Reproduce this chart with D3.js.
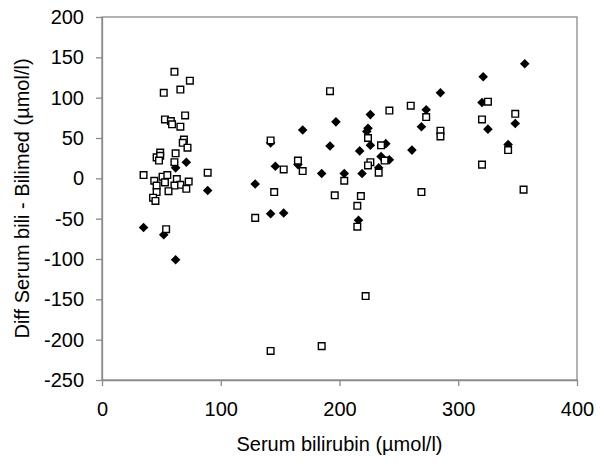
<html>
<head>
<script src="https://d3js.org/d3.v7.min.js"></script>
<style>
  body { margin: 0; background: #fff; }
  svg { display: block; font-family: Arial, 'Liberation Sans', sans-serif; }
</style>
</head>
<body>
<svg width="600" height="463"></svg>
<script>
// series 1: filled diamonds  [bilirubin, diff]
var diamondX = [35, 52, 62, 62, 71, 89, 129, 142, 142, 146, 153, 165, 169, 185, 192, 197, 204, 217, 216, 219,
                224, 223, 226, 226, 233, 235, 239, 242, 261, 269, 273, 285, 320, 321, 325, 342, 348, 356];
var diamondY = [-61, -70, -101, 13, 20, -15, -7, 44, -44, 15, -43, 17, 60, 6, 40, 70, 6, 34, -52, 6,
                62, 58, 79, 41, 13, 27, 43, 23, 35, 64, 85, 106, 94, 126, 61, 42, 68, 142];

// series 2: open squares
var squareX = [61, 74, 52, 66, 70, 53, 58, 59, 66, 69, 68, 72, 49, 46, 49, 48, 62, 61, 35, 44, 51, 55,
               46, 53, 63, 66, 61, 73, 71, 56, 46, 43, 45, 89, 54,
               129, 142, 145, 153, 165, 169, 192, 196, 204, 215, 215, 218, 222, 185, 142,
               224, 226, 224, 233, 235, 238, 242, 260, 269, 273, 285, 285, 320, 320, 325, 342, 348, 355];
var squareY = [132, 121, 106, 110, 78, 73, 71, 67, 64, 48, 44, 38, 32, 26, 28, 22, 31, 20, 4, -3, 2, 4,
               -9, -5, -1, -8, -9, -4, -13, -16, -17, -24, -28, 7, -63,
               -49, 47, -17, 11, 22, 9, 108, -21, -3, -34, -60, -22, -146, -208, -214,
               50, 20, 16, 7, 41, 22, 84, 90, -17, 76, 59, 52, 17, 73, 95, 35, 80, -14];

var xTicks = [0, 100, 200, 300, 400];
var yTicks = [-250, -200, -150, -100, -50, 0, 50, 100, 150, 200];

var svg = d3.select("svg");
var plotLeft = 102, plotRight = 577, plotTop = 17, plotBottom = 380;
var axisColor = "#8a8a8a";

var x = d3.scaleLinear().domain([0, 400]).range([plotLeft, plotRight]);
var y = d3.scaleLinear().domain([-250, 200]).range([plotBottom, plotTop]);

// frame
svg.append("rect")
  .attr("x", plotLeft).attr("y", plotTop)
  .attr("width", plotRight - plotLeft).attr("height", plotBottom - plotTop)
  .attr("fill", "none").attr("stroke", axisColor).attr("stroke-width", 1.3);

// plain hyphen for negatives, like the original
var plain = function(d) { return String(d); };
var xAxis = d3.axisBottom(x).tickValues(xTicks).tickFormat(plain).tickSizeInner(6).tickSizeOuter(0).tickPadding(16);
var yAxis = d3.axisLeft(y).tickValues(yTicks).tickFormat(plain).tickSizeInner(6).tickSizeOuter(0).tickPadding(12);

var gx = svg.append("g").attr("transform", "translate(0," + plotBottom + ")").call(xAxis);
var gy = svg.append("g").attr("transform", "translate(" + plotLeft + ",0)").call(yAxis);

[gx, gy].forEach(function(g) {
  g.select(".domain").attr("stroke", axisColor).attr("stroke-width", 1.3);
  g.selectAll(".tick line").attr("stroke", axisColor).attr("stroke-width", 1.3);
  g.selectAll(".tick text").attr("fill", "#000").style("font-size", "20px")
    .style("font-family", "Arial, 'Liberation Sans', sans-serif");
});

// diamonds
var diamond = d3.symbol().type(d3.symbolSquare).size(46);
svg.append("g").selectAll("path")
  .data(diamondX)
  .enter().append("path")
  .attr("d", diamond)
  .attr("transform", function(d, i) { return "translate(" + x(d) + "," + y(diamondY[i]) + ") rotate(45)"; })
  .attr("fill", "#000");

// squares
var square = d3.symbol().type(d3.symbolSquare).size(44);
svg.append("g").selectAll("path")
  .data(squareX)
  .enter().append("path")
  .attr("d", square)
  .attr("transform", function(d, i) { return "translate(" + x(d) + "," + y(squareY[i]) + ")"; })
  .attr("fill", "#fff").attr("stroke", "#000").attr("stroke-width", 1.4);

// axis titles
svg.append("text")
  .attr("x", (plotLeft + plotRight) / 2).attr("y", 451)
  .attr("text-anchor", "middle").style("font-size", "20px")
  .text("Serum bilirubin (µmol/l)");

svg.append("text")
  .attr("transform", "translate(29," + ((plotTop + plotBottom) / 2) + ") rotate(-90)")
  .attr("text-anchor", "middle").style("font-size", "20px")
  .text("Diff Serum bili - Bilimed (µmol/l)");
</script>
</body>
</html>
